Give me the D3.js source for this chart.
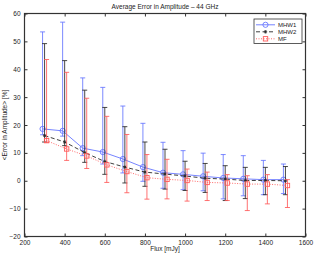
<!DOCTYPE html>
<html><head><meta charset="utf-8">
<script src="https://cdn.jsdelivr.net/npm/d3@7"></script>
<style>body{margin:0;background:#fff}svg{display:block;font-family:"Liberation Sans",Arial,sans-serif}</style>
</head><body><svg id="c" width="316" height="255"></svg>
<script>
const flux = [300,400,500,600,700,800,900,1000,1100,1200,1300,1400,1500];
const mhw1   = [18.6,17.9,11.7,10.3,7.8,4.9,2.9,2.3,1.6,1.0,0.7,0.4,0.4];
const mhw1Lo = [16.5,16.0,9.0,6.0,2.8,-0.2,-2.7,-3.2,-3.6,-6.5,-5.4,-5.0,-4.6];
const mhw1Hi = [53.4,56.9,36.9,33.5,26.8,20.6,13.8,10.8,9.9,9.4,9.0,7.3,6.0];
const mhw2   = [16.2,13.9,10.1,6.9,4.9,3.1,2.4,1.7,0.9,0.6,0.1,0.1,0.0];
const mhw2Lo = [13.9,12.6,6.6,2.3,-0.8,-2.0,-3.0,-3.5,-4.2,-7.1,-6.4,-5.0,-5.0];
const mhw2Hi = [49.2,43.1,32.5,26.3,19.4,13.9,11.3,7.0,6.2,5.4,4.8,4.8,5.1];
const mf     = [14.4,11.4,8.9,5.7,3.3,1.1,0.5,0.1,-0.6,-0.8,-1.2,-1.2,-1.7];
const mfLo   = [13.8,7.3,4.4,-0.6,-4.3,-6.6,-6.5,-7.3,-7.1,-7.1,-10.7,-8.3,-9.6];
const mfHi   = [43.5,38.9,29.6,23.1,16.6,9.4,7.7,4.2,3.1,2.2,1.8,2.2,0.4];
const xTicks = [200,400,600,800,1000,1200,1400,1600];
const yTicks = [-20,-10,0,10,20,30,40,50,60];
const seriesNames = ["MHW1","MHW2","MF"];
const title = "Average Error in Amplitude \u2013 44 GHz";
const xLabel = "Flux [mJy]";
const yLabel = "<Error in Amplitude> [%]";

const L=24.5, R=305.5, T=13.5, B=236.5;
const svg = d3.select("#c");
const x = d3.scaleLinear().domain([200,1600]).range([L,R]);
const y = d3.scaleLinear().domain([-20,60]).range([B,T]);

const series = [
  {name:seriesNames[0], v:mhw1, lo:mhw1Lo, hi:mhw1Hi, off:-10, color:"#6676ff", dash:null, marker:"circle"},
  {name:seriesNames[1], v:mhw2, lo:mhw2Lo, hi:mhw2Hi, off:0, color:"#2a2a2a", dash:"4,2.5", marker:"star"},
  {name:seriesNames[2], v:mf, lo:mfLo, hi:mfHi, off:10, color:"#ff5a5a", dash:"1,1.5", marker:"square"}
];

// axes box
const ax = svg.append("g").attr("font-size","6.5px").attr("fill","#222");
const axB = d3.axisBottom(x).tickValues(xTicks).tickSizeInner(-3).tickSizeOuter(0).tickPadding(4).tickFormat(d3.format("d"));
const axL = d3.axisLeft(y).tickValues(yTicks).tickSizeInner(-3).tickSizeOuter(0).tickPadding(4);
const axT = d3.axisTop(x).tickValues(xTicks).tickSizeInner(-3).tickSizeOuter(0).tickFormat("");
const axR = d3.axisRight(y).tickValues(yTicks).tickSizeInner(-3).tickSizeOuter(0).tickFormat("");
function style(g){g.select(".domain").remove();g.selectAll("line").attr("stroke","#333");g.selectAll("text").attr("fill","#222").attr("font-size","6.5px").attr("font-family","Liberation Sans, Arial, sans-serif");}
svg.append("g").attr("transform",`translate(0,${B})`).call(axB).call(style);
svg.append("g").attr("transform",`translate(${L},0)`).call(axL).call(style);
svg.append("g").attr("transform",`translate(0,${T})`).call(axT).call(style);
svg.append("g").attr("transform",`translate(${R},0)`).call(axR).call(style);
svg.append("rect").attr("x",L).attr("y",T).attr("width",R-L).attr("height",B-T).attr("fill","none").attr("stroke","#333").attr("stroke-width",1.2);

const plot = svg.append("g");
series.forEach(s=>{
  const g = plot.append("g");
  const idx = d3.range(flux.length);
  // error bars
  g.selectAll("line.eb").data(idx).join("line")
    .attr("x1",i=>x(flux[i]+s.off)).attr("x2",i=>x(flux[i]+s.off))
    .attr("y1",i=>y(s.lo[i])).attr("y2",i=>y(s.hi[i]))
    .attr("stroke",s.color).attr("stroke-width",1).attr("opacity",0.85);
  ["lo","hi"].forEach(k=>{
    g.selectAll("line.c"+k).data(idx).join("line")
      .attr("x1",i=>x(flux[i]+s.off)-2.5).attr("x2",i=>x(flux[i]+s.off)+2.5)
      .attr("y1",i=>y(s[k][i])).attr("y2",i=>y(s[k][i]))
      .attr("stroke",s.color).attr("stroke-width",1).attr("opacity",0.85);
  });
  // line
  g.append("path").datum(idx)
    .attr("d",d3.line().x(i=>x(flux[i]+s.off)).y(i=>y(s.v[i])))
    .attr("fill","none").attr("stroke",s.color).attr("stroke-width",0.9)
    .attr("stroke-dasharray",s.dash);
  // markers
  idx.forEach(i=>drawMarker(g,s,x(flux[i]+s.off),y(s.v[i])));
});

function drawMarker(g,s,cx,cy){
  if(s.marker==="circle"){
    g.append("circle").attr("cx",cx).attr("cy",cy).attr("r",2.6).attr("fill","none").attr("stroke",s.color).attr("stroke-width",0.9);
  } else if(s.marker==="square"){
    g.append("rect").attr("x",cx-2.2).attr("y",cy-2.2).attr("width",4.4).attr("height",4.4).attr("fill","none").attr("stroke",s.color).attr("stroke-width",0.9);
  } else {
    const r=1.7;
    [[r,0],[0,r],[r*0.7,r*0.7],[r*0.7,-r*0.7]].forEach(([dx,dy])=>{
      g.append("line").attr("x1",cx-dx).attr("x2",cx+dx).attr("y1",cy-dy).attr("y2",cy+dy).attr("stroke",s.color).attr("stroke-width",0.8);
    });
  }
}

// legend
const lg = svg.append("g");
lg.append("rect").attr("x",254).attr("y",19).attr("width",48).attr("height",24.5).attr("fill","#fff").attr("stroke","#333").attr("stroke-width",0.8);
series.forEach((s,i)=>{
  const ly = 24.8 + i*7;
  lg.append("line").attr("x1",256).attr("x2",275).attr("y1",ly).attr("y2",ly).attr("stroke",s.color).attr("stroke-width",0.9).attr("stroke-dasharray",s.dash);
  drawMarker(lg,s,265.5,ly);
  lg.append("text").attr("x",278).attr("y",ly+2.2).attr("font-size","6px").attr("fill","#222").text(s.name);
});

// titles
svg.append("text").attr("x",165).attr("y",9).attr("text-anchor","middle").attr("font-size","6.5px").attr("fill","#222").text(title);
svg.append("text").attr("x",165).attr("y",251).attr("text-anchor","middle").attr("font-size","6.5px").attr("fill","#222").text(xLabel);
svg.append("text").attr("transform",`translate(7,${(T+B)/2}) rotate(-90)`).attr("text-anchor","middle").attr("font-size","6.5px").attr("fill","#222").text(yLabel);
</script></body></html>
